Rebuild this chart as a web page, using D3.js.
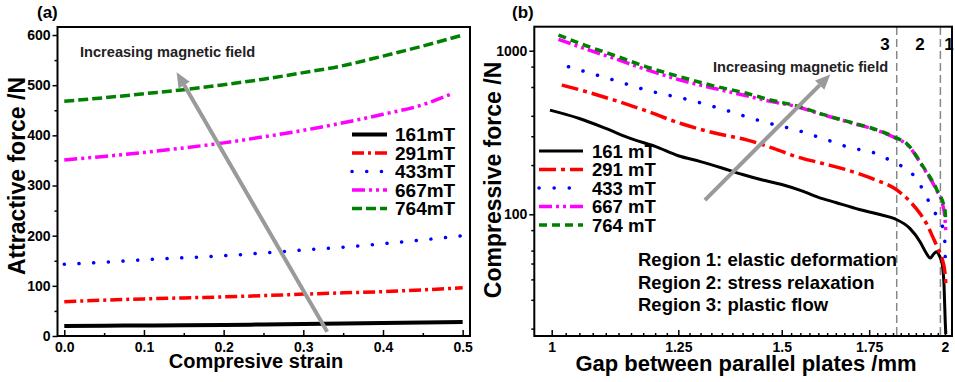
<!DOCTYPE html>
<html>
<head>
<meta charset="utf-8">
<script src="https://cdn.jsdelivr.net/npm/d3@7"></script>
<style>
body { margin: 0; background: #fff; }
text { font-family: Arial, "Liberation Sans", sans-serif; font-weight: bold; }
</style>
</head>
<body>
<div id="chart"></div>
<script>
// ---- panel (a): attractive force vs strain ----
var strainA = [0, 0.05, 0.1, 0.15, 0.2, 0.25, 0.3, 0.35, 0.4, 0.45, 0.5];
var strain667 = [0, 0.05, 0.1, 0.15, 0.2, 0.25, 0.3, 0.35, 0.4, 0.45, 0.485];
var force161a = [20, 20.5, 21, 21.5, 22, 23, 24, 25, 26, 27, 28];
var force291a = [68.5, 71.5, 74, 76, 78, 80.5, 83.5, 86, 88.5, 92, 96];
var force433a = [143, 147, 152, 156, 160, 165.5, 171.5, 177, 184, 191.5, 200];
var force667a = [351, 358, 366, 375, 385, 397, 410, 425, 442, 461, 482];
var force764a = [468, 475, 483, 491, 501, 512, 525, 539, 558, 578, 600];
var xTicksA = [0, 0.1, 0.2, 0.3, 0.4, 0.5];
var xMinorA = [0.05, 0.15, 0.25, 0.35, 0.45];
var yTicksA = [0, 100, 200, 300, 400, 500, 600];
var yMinorA = [50, 150, 250, 350, 450, 550];
var labelsA = ["161mT", "291mT", "433mT", "667mT", "764mT"];

// ---- panel (b): compressive force vs gap ----
var gap161 = [0.997, 1.05, 1.1, 1.15, 1.2, 1.25, 1.3, 1.35, 1.4, 1.45, 1.5, 1.55, 1.6, 1.65, 1.72, 1.78, 1.83, 1.88, 1.914, 1.935, 1.949, 1.96, 1.971, 1.98, 1.99, 1.997, 2.001, 2.003];
var force161b = [433, 385, 335, 290, 260, 228, 210, 192, 175, 162, 152, 140, 127, 118, 107, 100, 94, 82, 68, 58, 54, 57, 59, 56, 50, 36, 22, 18.5];
var gap291 = [1.018, 1.06, 1.115, 1.18, 1.254, 1.33, 1.41, 1.48, 1.54, 1.61, 1.682, 1.76, 1.837, 1.88, 1.914, 1.94, 1.957, 1.975, 1.992, 2.0, 2.003];
var force291b = [617, 565, 500, 430, 360, 315, 285, 252, 225, 205, 187, 165, 141, 120, 101, 85, 73, 62, 52, 44, 38];
var gap433 = [1.03, 1.115, 1.182, 1.276, 1.35, 1.452, 1.54, 1.614, 1.682, 1.784, 1.832, 1.875, 1.911, 1.936, 1.958, 1.987, 1.999, 2.001, 2.003];
var force433b = [798, 662, 574, 499, 440, 368, 327, 290, 259, 230, 205, 187, 155, 128, 106, 89, 71, 55, 46];
var gap667 = [1.012, 1.06, 1.115, 1.18, 1.254, 1.33, 1.41, 1.47, 1.54, 1.61, 1.7, 1.77, 1.837, 1.87, 1.925, 1.971, 1.99, 2.0, 2.003];
var force667b = [1174, 1030, 900, 770, 662, 590, 530, 490, 455, 408, 360, 328, 290, 268, 193, 140, 118, 95, 78];
var gap764 = [1.012, 1.06, 1.115, 1.18, 1.254, 1.33, 1.41, 1.47, 1.54, 1.61, 1.7, 1.77, 1.837, 1.87, 1.925, 1.971, 2.0, 2.003];
var force764b = [1247, 1080, 940, 800, 693, 610, 549, 500, 460, 410, 362, 330, 292, 270, 195, 142, 106, 90];
var xTicksB = [1, 1.25, 1.5, 1.75, 2];
var xMinorB = d3.range(1.025, 2.0, 0.025).filter(function (v) { return Math.abs(v * 4 - Math.round(v * 4)) > 0.01; });
var yTicksB = [100, 1000];
var yMinorB = [20, 30, 40, 50, 60, 80, 200, 300, 400, 600, 800];
var labelsB = ["161 mT", "291 mT", "433 mT", "667 mT", "764 mT"];
var regionBounds = [1.837, 1.984];
var regionNames = ["3", "2", "1"];
var regionNotes = ["Region 1: elastic deformation", "Region 2: stress relaxation", "Region 3: plastic flow"];

var colors = ["#000000", "#ff0000", "#0000ff", "#ff00ff", "#008000"];
var dashA = ["none", "12,4,3,4", "0.1,14.6", "13,4,3,4,3,4", "10,4"];
var dashB = ["none", "17,5,4,5", "0.1,15", "13,4,3,4,3,4", "8,5"];

var svg = d3.select("#chart").append("svg")
    .attr("width", 955)
    .attr("height", 382);

function drawArrow(g, x1, y1, x2, y2) {
    var ang = Math.atan2(y2 - y1, x2 - x1), L = 15, W = 6.5;
    var bx = x2 - L * Math.cos(ang), by = y2 - L * Math.sin(ang);
    g.append("line")
        .attr("x1", x1).attr("y1", y1).attr("x2", bx).attr("y2", by)
        .attr("stroke", "#9a9a9a").attr("stroke-width", 4);
    g.append("path")
        .attr("d", "M" + x2 + "," + y2 +
            "L" + (bx + W * Math.sin(ang)) + "," + (by - W * Math.cos(ang)) +
            "L" + (bx - W * Math.sin(ang)) + "," + (by + W * Math.cos(ang)) + "Z")
        .attr("fill", "#9a9a9a");
}

function styleAxis(g) {
    g.select(".domain").remove();
    g.selectAll(".tick line").attr("stroke", "#000").attr("stroke-width", 1.5);
    g.selectAll("text").attr("font-size", 14).attr("fill", "#000");
}

// ================= panel (a) =================
var xA = d3.scaleLinear().domain([-0.0085, 0.5092]).range([57.5, 470]);
var yA = d3.scaleLinear().domain([0, 616]).range([336, 27]);

var gA = svg.append("g");

gA.append("g").attr("transform", "translate(0,336)")
    .call(d3.axisBottom(xA).tickValues(xTicksA).tickFormat(d3.format(".1f")).tickSize(-6).tickPadding(6))
    .call(styleAxis);
gA.append("g").attr("transform", "translate(0,336)")
    .call(d3.axisBottom(xA).tickValues(xMinorA).tickFormat("").tickSize(-3))
    .call(styleAxis);
gA.append("g").attr("transform", "translate(57.5,0)")
    .call(d3.axisLeft(yA).tickValues(yTicksA).tickSize(5).tickPadding(2))
    .call(styleAxis);
gA.append("g").attr("transform", "translate(57.5,0)")
    .call(d3.axisLeft(yA).tickValues(yMinorA).tickFormat("").tickSize(3))
    .call(styleAxis);

var seriesA = [
    { x: strainA, y: force161a },
    { x: strainA, y: force291a },
    { x: strainA, y: force433a },
    { x: strain667, y: force667a },
    { x: strainA, y: force764a }
];
var lineA = d3.line()
    .x(function (d) { return xA(d[0]); })
    .y(function (d) { return yA(d[1]); })
    .curve(d3.curveMonotoneX);
seriesA.forEach(function (s, i) {
    gA.append("path")
        .datum(d3.zip(s.x, s.y))
        .attr("fill", "none")
        .attr("stroke", colors[i])
        .attr("stroke-width", i == 0 ? 4 : 3.5)
        .attr("stroke-dasharray", dashA[i])
        .attr("stroke-linecap", i == 2 ? "round" : "butt")
        .attr("d", lineA);
});

gA.append("rect")
    .attr("x", 57.5).attr("y", 27).attr("width", 470 - 57.5).attr("height", 336 - 27)
    .attr("fill", "none").attr("stroke", "#000").attr("stroke-width", 2);

// arrow + note (a)
drawArrow(gA, xA(0.33), yA(8.6), xA(0.141), yA(526));
gA.append("text").attr("x", 80).attr("y", 57).attr("font-size", 14.6)
    .attr("fill", "#222").text("Increasing magnetic field");

// legend (a)
labelsA.forEach(function (lab, i) {
    var yy = 134.5 + i * 18.5;
    gA.append("line")
        .attr("x1", 352).attr("x2", 387).attr("y1", yy).attr("y2", yy)
        .attr("stroke", colors[i]).attr("stroke-width", i == 0 ? 4 : 3.5)
        .attr("stroke-dasharray", dashA[i])
        .attr("stroke-linecap", i == 2 ? "round" : "butt");
    gA.append("text").attr("x", 395).attr("y", yy + 6.5)
        .attr("font-size", 19).text(lab);
});

gA.append("text").attr("x", 37).attr("y", 18).attr("font-size", 17).text("(a)");
gA.append("text").attr("x", 256).attr("y", 368).attr("font-size", 20)
    .attr("text-anchor", "middle").text("Compresive strain");
gA.append("text").attr("transform", "translate(25,176) rotate(-90)")
    .attr("font-size", 23).attr("text-anchor", "middle").text("Attractive force /N");

// ================= panel (b) =================
var xB = d3.scaleLog().domain([0.9698, 2.025]).range([534.3, 952]);
var yB = d3.scaleLog().domain([18.03, 1402]).range([336, 26.7]);

var gB = svg.append("g");

gB.append("g").attr("transform", "translate(0,336)")
    .call(d3.axisBottom(xB).tickValues(xTicksB).tickFormat(d3.format("")).tickSize(-6).tickPadding(6))
    .call(styleAxis);
gB.append("g").attr("transform", "translate(0,336)")
    .call(d3.axisBottom(xB).tickValues(xMinorB).tickFormat("").tickSize(-3))
    .call(styleAxis);
gB.append("g").attr("transform", "translate(534.3,0)")
    .call(d3.axisLeft(yB).tickValues(yTicksB).tickFormat(d3.format("")).tickSize(5).tickPadding(2))
    .call(styleAxis);
gB.append("g").attr("transform", "translate(534.3,0)")
    .call(d3.axisLeft(yB).tickValues(yMinorB).tickFormat("").tickSize(3))
    .call(styleAxis);

// region boundaries
regionBounds.forEach(function (v) {
    gB.append("line")
        .attr("x1", xB(v)).attr("x2", xB(v)).attr("y1", 27).attr("y2", 336)
        .attr("stroke", "#888").attr("stroke-width", 1.5).attr("stroke-dasharray", "8,4");
});
[885, 920, 949].forEach(function (xx, i) {
    gB.append("text").attr("x", xx).attr("y", 50).attr("font-size", 17)
        .attr("text-anchor", "middle").text(regionNames[i]);
});

var seriesB = [
    { x: gap161, y: force161b },
    { x: gap291, y: force291b },
    { x: gap433, y: force433b },
    { x: gap667, y: force667b },
    { x: gap764, y: force764b }
];
var lineB = d3.line()
    .x(function (d) { return xB(d[0]); })
    .y(function (d) { return yB(d[1]); })
    .curve(d3.curveMonotoneX);
seriesB.forEach(function (s, i) {
    gB.append("path")
        .datum(d3.zip(s.x, s.y))
        .attr("fill", "none")
        .attr("stroke", colors[i])
        .attr("stroke-width", i == 0 ? 3 : 3.5)
        .attr("stroke-dasharray", dashB[i])
        .attr("stroke-linecap", i == 2 ? "round" : "butt")
        .attr("d", lineB);
});

gB.append("rect")
    .attr("x", 534.3).attr("y", 26.7).attr("width", 952 - 534.3).attr("height", 336 - 26.7)
    .attr("fill", "none").attr("stroke", "#000").attr("stroke-width", 2);

drawArrow(gB, xB(1.31), yB(122), xB(1.634), yB(715));
gB.append("text").attr("x", 713).attr("y", 72).attr("font-size", 14.6)
    .attr("fill", "#222").text("Increasing magnetic field");

labelsB.forEach(function (lab, i) {
    var yy = 151 + i * 18.5;
    gB.append("line")
        .attr("x1", 539).attr("x2", 583).attr("y1", yy).attr("y2", yy)
        .attr("stroke", colors[i]).attr("stroke-width", i == 0 ? 3 : 3.5)
        .attr("stroke-dasharray", dashB[i])
        .attr("stroke-linecap", i == 2 ? "round" : "butt");
    gB.append("text").attr("x", 592).attr("y", yy + 6.5)
        .attr("font-size", 18.5).text(lab);
});

regionNotes.forEach(function (t, i) {
    gB.append("text").attr("x", 638).attr("y", 266 + i * 22.5)
        .attr("font-size", 18.5).text(t);
});

gB.append("text").attr("x", 512).attr("y", 18).attr("font-size", 17).text("(b)");
gB.append("text").attr("x", 746).attr("y", 371).attr("font-size", 22)
    .attr("text-anchor", "middle").text("Gap between parallel plates /mm");
gB.append("text").attr("transform", "translate(501,180) rotate(-90)")
    .attr("font-size", 23).attr("text-anchor", "middle").text("Compressive force /N");
</script>
</body>
</html>
